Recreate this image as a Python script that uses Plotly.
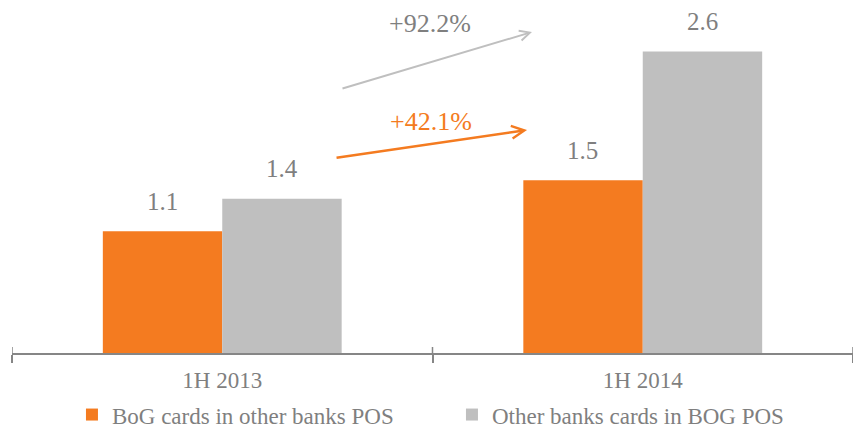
import plotly.graph_objects as go

categories = ["1H 2013", "1H 2014"]
bog_cards = [1.05, 1.49]
other_cards = [1.33, 2.60]
bog_labels = ["1.1", "1.5"]
other_labels = ["1.4", "2.6"]
series_names = ["BoG cards in other banks POS", "Other banks cards in BOG POS"]
growth_labels = ["+42.1%", "+92.2%"]

ORANGE = "#F47B20"
GREY = "#BFBFBF"
TEXT = "#7F7F7F"
AXIS = "#868686"
FONT = "Liberation Serif, Times New Roman, serif"

fig = go.Figure()
fig.add_trace(go.Bar(x=categories, y=bog_cards, name=series_names[0],
                     marker=dict(color=ORANGE, line=dict(width=0))))
fig.add_trace(go.Bar(x=categories, y=other_cards, name=series_names[1],
                     marker=dict(color=GREY, line=dict(width=0))))

annotations = []
# data labels above the bars
for vals, labs, shift in [(bog_cards, bog_labels, -60), (other_cards, other_labels, 60)]:
    for c, v, t in zip(categories, vals, labs):
        annotations.append(dict(x=c, y=v, xref="x", yref="y", text=t, showarrow=False,
                                xshift=shift, yshift=30, yanchor="middle",
                                font=dict(family=FONT, size=25, color=TEXT)))

# growth arrows and labels
annotations.append(dict(x=0.6183, y=0.9093, xref="paper", yref="paper", text="",
                        showarrow=True, ax=-191, ay=57, axref="pixel", ayref="pixel",
                        arrowhead=5, arrowsize=1.0, arrowwidth=2, arrowcolor=GREY))
annotations.append(dict(x=0.6124, y=0.6317, xref="paper", yref="paper", text="",
                        showarrow=True, ax=-192, ay=28, axref="pixel", ayref="pixel",
                        arrowhead=5, arrowsize=1.0, arrowwidth=2.5, arrowcolor=ORANGE))
annotations.append(dict(x=0.4970, y=0.9348, xref="paper", yref="paper", text=growth_labels[1],
                        showarrow=False, xanchor="center", yanchor="middle",
                        font=dict(family=FONT, size=26, color=TEXT)))
annotations.append(dict(x=0.4982, y=0.6544, xref="paper", yref="paper", text=growth_labels[0],
                        showarrow=False, xanchor="center", yanchor="middle",
                        font=dict(family=FONT, size=26, color=ORANGE)))

# upper half of the category boundary ticks (ticks cross the axis line)
shapes = []
for b in [-0.5, 0.5, 1.5]:
    shapes.append(dict(type="line", xref="x", yref="y", x0=b, x1=b, y0=0, y1=0.052,
                       line=dict(color=AXIS, width=1.5)))

fig.update_layout(
    width=853, height=429,
    margin=dict(l=12, r=0, t=0, b=76, autoexpand=False),
    paper_bgcolor="white", plot_bgcolor="white",
    barmode="group", bargap=0.432, bargroupgap=0,
    font=dict(family=FONT, color=TEXT),
    showlegend=True,
    legend=dict(orientation="h", x=0.0713, xanchor="left", y=-0.1745, yanchor="middle",
                font=dict(family=FONT, size=23, color=TEXT),
                entrywidth=335, entrywidthmode="pixels",
                itemclick=False, bgcolor="rgba(0,0,0,0)"),
    annotations=annotations,
    shapes=shapes,
    xaxis=dict(range=[-0.5, 1.5], showgrid=False, zeroline=False,
               showline=True, linecolor=AXIS, linewidth=1.5,
               ticks="outside", tickson="boundaries", ticklen=8, tickwidth=1.5,
               tickcolor=AXIS, ticklabelstandoff=6,
               tickfont=dict(family=FONT, size=23, color=TEXT)),
    yaxis=dict(range=[0, 3.043], visible=False, showgrid=False, zeroline=False),
)

fig.write_html("out.html", config={"displayModeBar": False},
               post_script="document.body.style.margin='0';")
